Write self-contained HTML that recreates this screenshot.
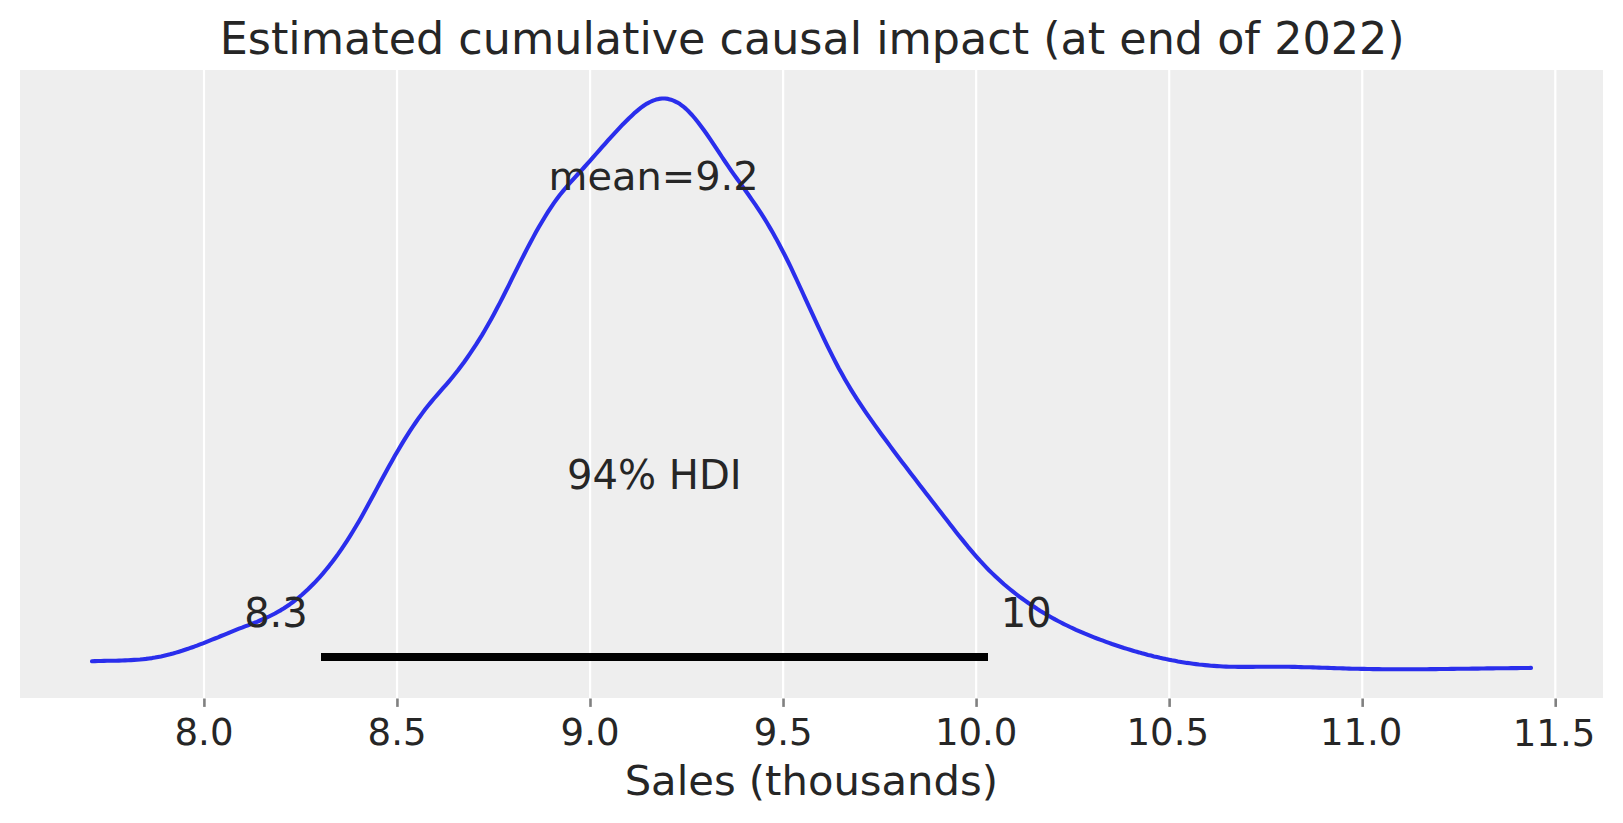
<!DOCTYPE html>
<html lang="en">
<head>
<meta charset="utf-8">
<title>Estimated cumulative causal impact</title>
<style>
html,body{margin:0;padding:0;background:#ffffff;}
body{width:1623px;height:823px;overflow:hidden;font-family:"DejaVu Sans","Liberation Sans",sans-serif;}
svg{display:block;}
</style>
</head>
<body>
<svg width="1623" height="823" viewBox="0 0 1623 823">
<rect x="0" y="0" width="1623" height="823" fill="#ffffff"/>
<rect x="20" y="70" width="1583" height="628" fill="#eeeeee"/>
<line x1="204.00" y1="70" x2="204.00" y2="698" stroke="#ffffff" stroke-width="2.2"/>
<line x1="397.04" y1="70" x2="397.04" y2="698" stroke="#ffffff" stroke-width="2.2"/>
<line x1="590.09" y1="70" x2="590.09" y2="698" stroke="#ffffff" stroke-width="2.2"/>
<line x1="783.13" y1="70" x2="783.13" y2="698" stroke="#ffffff" stroke-width="2.2"/>
<line x1="976.17" y1="70" x2="976.17" y2="698" stroke="#ffffff" stroke-width="2.2"/>
<line x1="1169.21" y1="70" x2="1169.21" y2="698" stroke="#ffffff" stroke-width="2.2"/>
<line x1="1362.26" y1="70" x2="1362.26" y2="698" stroke="#ffffff" stroke-width="2.2"/>
<line x1="1555.30" y1="70" x2="1555.30" y2="698" stroke="#ffffff" stroke-width="2.2"/>
<line x1="204.40" y1="698.5" x2="204.40" y2="706.9" stroke="#808080" stroke-width="2.6"/>
<line x1="397.44" y1="698.5" x2="397.44" y2="706.9" stroke="#808080" stroke-width="2.6"/>
<line x1="590.49" y1="698.5" x2="590.49" y2="706.9" stroke="#808080" stroke-width="2.6"/>
<line x1="783.53" y1="698.5" x2="783.53" y2="706.9" stroke="#808080" stroke-width="2.6"/>
<line x1="976.57" y1="698.5" x2="976.57" y2="706.9" stroke="#808080" stroke-width="2.6"/>
<line x1="1169.61" y1="698.5" x2="1169.61" y2="706.9" stroke="#808080" stroke-width="2.6"/>
<line x1="1362.66" y1="698.5" x2="1362.66" y2="706.9" stroke="#808080" stroke-width="2.6"/>
<line x1="1555.70" y1="698.5" x2="1555.70" y2="706.9" stroke="#808080" stroke-width="2.6"/>
<path d="M92.0 661.3 L95.0 661.1 L98.0 661.0 L101.0 661.0 L104.0 660.9 L107.0 660.8 L110.0 660.8 L113.0 660.7 L116.0 660.7 L119.0 660.6 L122.0 660.5 L125.0 660.4 L128.0 660.3 L131.0 660.1 L134.0 659.9 L137.0 659.7 L140.0 659.5 L143.0 659.2 L146.0 658.9 L149.0 658.5 L152.0 658.1 L155.0 657.6 L158.0 657.0 L161.0 656.4 L164.0 655.7 L167.0 655.0 L170.0 654.3 L173.0 653.5 L176.0 652.6 L179.0 651.7 L182.0 650.8 L185.0 649.8 L188.0 648.8 L191.0 647.7 L194.0 646.7 L197.0 645.6 L200.0 644.4 L203.0 643.3 L206.0 642.1 L209.0 640.9 L212.0 639.7 L215.0 638.5 L218.0 637.3 L221.0 636.0 L224.0 634.8 L227.0 633.6 L230.0 632.3 L233.0 631.1 L236.0 629.9 L239.0 628.7 L242.0 627.6 L245.0 626.4 L248.0 625.3 L251.0 624.1 L254.0 623.0 L257.0 621.8 L260.0 620.5 L263.0 619.2 L266.0 617.9 L269.0 616.5 L272.0 615.0 L275.0 613.5 L278.0 611.8 L281.0 610.1 L284.0 608.2 L287.0 606.2 L290.0 604.2 L293.0 602.0 L296.0 599.7 L299.0 597.2 L302.0 594.7 L305.0 592.0 L308.0 589.3 L311.0 586.3 L314.0 583.3 L317.0 580.1 L320.0 576.8 L323.0 573.4 L326.0 569.8 L329.0 566.1 L332.0 562.2 L335.0 558.2 L338.0 554.1 L341.0 549.8 L344.0 545.4 L347.0 540.9 L350.0 536.2 L353.0 531.3 L356.0 526.3 L359.0 521.2 L362.0 515.9 L365.0 510.5 L368.0 505.1 L371.0 499.6 L374.0 494.0 L377.0 488.4 L380.0 482.8 L383.0 477.3 L386.0 471.7 L389.0 466.3 L392.0 460.9 L395.0 455.6 L398.0 450.4 L401.0 445.4 L404.0 440.4 L407.0 435.6 L410.0 430.9 L413.0 426.4 L416.0 422.0 L419.0 417.7 L422.0 413.6 L425.0 409.6 L428.0 405.8 L431.0 402.1 L434.0 398.5 L437.0 395.1 L440.0 391.6 L443.0 388.2 L446.0 384.8 L449.0 381.3 L452.0 377.7 L455.0 374.0 L458.0 370.2 L461.0 366.2 L464.0 362.2 L467.0 358.0 L470.0 353.7 L473.0 349.2 L476.0 344.7 L479.0 339.9 L482.0 335.1 L485.0 330.0 L488.0 324.8 L491.0 319.5 L494.0 314.0 L497.0 308.3 L500.0 302.6 L503.0 296.7 L506.0 290.8 L509.0 284.8 L512.0 278.7 L515.0 272.7 L518.0 266.7 L521.0 260.7 L524.0 254.8 L527.0 248.9 L530.0 243.2 L533.0 237.6 L536.0 232.1 L539.0 226.8 L542.0 221.7 L545.0 216.7 L548.0 211.9 L551.0 207.3 L554.0 202.9 L557.0 198.8 L560.0 194.8 L563.0 191.1 L566.0 187.5 L569.0 184.0 L572.0 180.6 L575.0 177.3 L578.0 174.0 L581.0 170.8 L584.0 167.5 L587.0 164.1 L590.0 160.8 L593.0 157.4 L596.0 154.0 L599.0 150.6 L602.0 147.2 L605.0 143.8 L608.0 140.4 L611.0 137.1 L614.0 133.8 L617.0 130.6 L620.0 127.4 L623.0 124.2 L626.0 121.2 L629.0 118.2 L632.0 115.4 L635.0 112.6 L638.0 110.1 L641.0 107.7 L644.0 105.5 L647.0 103.6 L650.0 102.0 L653.0 100.6 L656.0 99.6 L659.0 98.9 L662.0 98.5 L665.0 98.5 L668.0 98.9 L671.0 99.7 L674.0 100.8 L677.0 102.3 L680.0 104.1 L683.0 106.3 L686.0 108.9 L689.0 111.8 L692.0 115.0 L695.0 118.5 L698.0 122.2 L701.0 126.2 L704.0 130.3 L707.0 134.5 L710.0 138.9 L713.0 143.4 L716.0 147.9 L719.0 152.4 L722.0 157.0 L725.0 161.5 L728.0 165.9 L731.0 170.3 L734.0 174.6 L737.0 178.8 L740.0 182.9 L743.0 187.1 L746.0 191.3 L749.0 195.5 L752.0 199.8 L755.0 204.1 L758.0 208.6 L761.0 213.2 L764.0 217.9 L767.0 222.8 L770.0 227.9 L773.0 233.1 L776.0 238.4 L779.0 244.0 L782.0 249.7 L785.0 255.5 L788.0 261.5 L791.0 267.7 L794.0 274.1 L797.0 280.5 L800.0 287.0 L803.0 293.5 L806.0 300.1 L809.0 306.6 L812.0 313.2 L815.0 319.7 L818.0 326.1 L821.0 332.5 L824.0 338.9 L827.0 345.1 L830.0 351.2 L833.0 357.2 L836.0 363.0 L839.0 368.7 L842.0 374.1 L845.0 379.4 L848.0 384.6 L851.0 389.6 L854.0 394.4 L857.0 399.1 L860.0 403.7 L863.0 408.2 L866.0 412.6 L869.0 416.9 L872.0 421.2 L875.0 425.4 L878.0 429.5 L881.0 433.7 L884.0 437.8 L887.0 441.8 L890.0 445.9 L893.0 449.9 L896.0 453.9 L899.0 457.9 L902.0 461.9 L905.0 465.8 L908.0 469.8 L911.0 473.7 L914.0 477.6 L917.0 481.5 L920.0 485.4 L923.0 489.3 L926.0 493.2 L929.0 497.1 L932.0 501.0 L935.0 504.8 L938.0 508.7 L941.0 512.6 L944.0 516.5 L947.0 520.3 L950.0 524.2 L953.0 528.1 L956.0 531.9 L959.0 535.7 L962.0 539.4 L965.0 543.1 L968.0 546.8 L971.0 550.3 L974.0 553.9 L977.0 557.3 L980.0 560.7 L983.0 563.9 L986.0 567.1 L989.0 570.2 L992.0 573.1 L995.0 576.0 L998.0 578.8 L1001.0 581.5 L1004.0 584.2 L1007.0 586.7 L1010.0 589.2 L1013.0 591.6 L1016.0 594.0 L1019.0 596.3 L1022.0 598.5 L1025.0 600.7 L1028.0 602.8 L1031.0 604.8 L1034.0 606.8 L1037.0 608.8 L1040.0 610.7 L1043.0 612.5 L1046.0 614.3 L1049.0 616.0 L1052.0 617.7 L1055.0 619.4 L1058.0 621.0 L1061.0 622.5 L1064.0 624.1 L1067.0 625.5 L1070.0 627.0 L1073.0 628.4 L1076.0 629.8 L1079.0 631.1 L1082.0 632.4 L1085.0 633.7 L1088.0 634.9 L1091.0 636.1 L1094.0 637.3 L1097.0 638.5 L1100.0 639.6 L1103.0 640.7 L1106.0 641.8 L1109.0 642.9 L1112.0 644.0 L1115.0 645.0 L1118.0 646.0 L1121.0 647.0 L1124.0 648.0 L1127.0 648.9 L1130.0 649.8 L1133.0 650.7 L1136.0 651.6 L1139.0 652.4 L1142.0 653.3 L1145.0 654.1 L1148.0 654.9 L1151.0 655.6 L1154.0 656.4 L1157.0 657.1 L1160.0 657.8 L1163.0 658.4 L1166.0 659.1 L1169.0 659.7 L1172.0 660.3 L1175.0 660.8 L1178.0 661.4 L1181.0 661.9 L1184.0 662.4 L1187.0 662.9 L1190.0 663.3 L1193.0 663.7 L1196.0 664.1 L1199.0 664.5 L1202.0 664.8 L1205.0 665.1 L1208.0 665.4 L1211.0 665.7 L1214.0 665.9 L1217.0 666.1 L1220.0 666.3 L1223.0 666.5 L1226.0 666.6 L1229.0 666.7 L1232.0 666.8 L1235.0 666.8 L1238.0 666.9 L1241.0 666.9 L1244.0 666.9 L1247.0 666.9 L1250.0 666.9 L1253.0 666.9 L1256.0 666.8 L1259.0 666.8 L1262.0 666.8 L1265.0 666.7 L1268.0 666.7 L1271.0 666.7 L1274.0 666.7 L1277.0 666.7 L1280.0 666.7 L1283.0 666.7 L1286.0 666.8 L1289.0 666.8 L1292.0 666.9 L1295.0 666.9 L1298.0 667.0 L1301.0 667.1 L1304.0 667.2 L1307.0 667.3 L1310.0 667.3 L1313.0 667.4 L1316.0 667.5 L1319.0 667.6 L1322.0 667.7 L1325.0 667.8 L1328.0 667.9 L1331.0 668.0 L1334.0 668.1 L1337.0 668.2 L1340.0 668.3 L1343.0 668.4 L1346.0 668.5 L1349.0 668.6 L1352.0 668.7 L1355.0 668.7 L1358.0 668.8 L1361.0 668.9 L1364.0 668.9 L1367.0 669.0 L1370.0 669.0 L1373.0 669.1 L1376.0 669.1 L1379.0 669.1 L1382.0 669.2 L1385.0 669.2 L1388.0 669.2 L1391.0 669.2 L1394.0 669.2 L1397.0 669.2 L1400.0 669.3 L1403.0 669.3 L1406.0 669.3 L1409.0 669.2 L1412.0 669.2 L1415.0 669.2 L1418.0 669.2 L1421.0 669.2 L1424.0 669.2 L1427.0 669.2 L1430.0 669.1 L1433.0 669.1 L1436.0 669.1 L1439.0 669.0 L1442.0 669.0 L1445.0 669.0 L1448.0 669.0 L1451.0 668.9 L1454.0 668.9 L1457.0 668.8 L1460.0 668.8 L1463.0 668.8 L1466.0 668.7 L1469.0 668.7 L1472.0 668.6 L1475.0 668.6 L1478.0 668.6 L1481.0 668.5 L1484.0 668.5 L1487.0 668.4 L1490.0 668.4 L1493.0 668.4 L1496.0 668.3 L1499.0 668.3 L1502.0 668.2 L1505.0 668.2 L1508.0 668.2 L1511.0 668.1 L1514.0 668.1 L1517.0 668.1 L1520.0 668.0 L1523.0 668.0 L1526.0 668.0 L1529.0 668.0 L1531.0 667.9" fill="none" stroke="#2a2eec" stroke-width="4.1" stroke-linecap="round" stroke-linejoin="round"/>
<line x1="321" y1="657" x2="988" y2="657" stroke="#000000" stroke-width="8.2"/>
<text x="812.15" y="54.35" text-anchor="middle" font-size="44.44" font-family="DejaVu Sans, Liberation Sans, sans-serif" fill="#262626">Estimated cumulative causal impact (at end of 2022)</text>
<text x="811.3" y="795.1" text-anchor="middle" font-size="41.7" font-family="DejaVu Sans, Liberation Sans, sans-serif" fill="#262626">Sales (thousands)</text>
<text x="204.00" y="744.6" text-anchor="middle" font-size="37.1" font-family="DejaVu Sans, Liberation Sans, sans-serif" fill="#262626">8.0</text>
<text x="397.04" y="744.6" text-anchor="middle" font-size="37.1" font-family="DejaVu Sans, Liberation Sans, sans-serif" fill="#262626">8.5</text>
<text x="590.09" y="744.6" text-anchor="middle" font-size="37.1" font-family="DejaVu Sans, Liberation Sans, sans-serif" fill="#262626">9.0</text>
<text x="783.13" y="744.6" text-anchor="middle" font-size="37.1" font-family="DejaVu Sans, Liberation Sans, sans-serif" fill="#262626">9.5</text>
<text x="976.17" y="744.6" text-anchor="middle" font-size="37.1" font-family="DejaVu Sans, Liberation Sans, sans-serif" fill="#262626">10.0</text>
<text x="1167.81" y="744.6" text-anchor="middle" font-size="37.1" font-family="DejaVu Sans, Liberation Sans, sans-serif" fill="#262626">10.5</text>
<text x="1361.16" y="744.6" text-anchor="middle" font-size="37.1" font-family="DejaVu Sans, Liberation Sans, sans-serif" fill="#262626">11.0</text>
<text x="1554.00" y="745.6" text-anchor="middle" font-size="37.1" font-family="DejaVu Sans, Liberation Sans, sans-serif" fill="#262626">11.5</text>
<text x="653.6" y="190.0" text-anchor="middle" font-size="39.9" font-family="DejaVu Sans, Liberation Sans, sans-serif" fill="#262626">mean=9.2</text>
<text x="654.3" y="488.9" text-anchor="middle" font-size="40.1" font-family="DejaVu Sans, Liberation Sans, sans-serif" fill="#262626">94% HDI</text>
<text x="276.0" y="626.8" text-anchor="middle" font-size="40.1" font-family="DejaVu Sans, Liberation Sans, sans-serif" fill="#262626">8.3</text>
<text x="1026.3" y="626.6" text-anchor="middle" font-size="40.1" font-family="DejaVu Sans, Liberation Sans, sans-serif" fill="#262626">10</text>
</svg>
</body>
</html>
